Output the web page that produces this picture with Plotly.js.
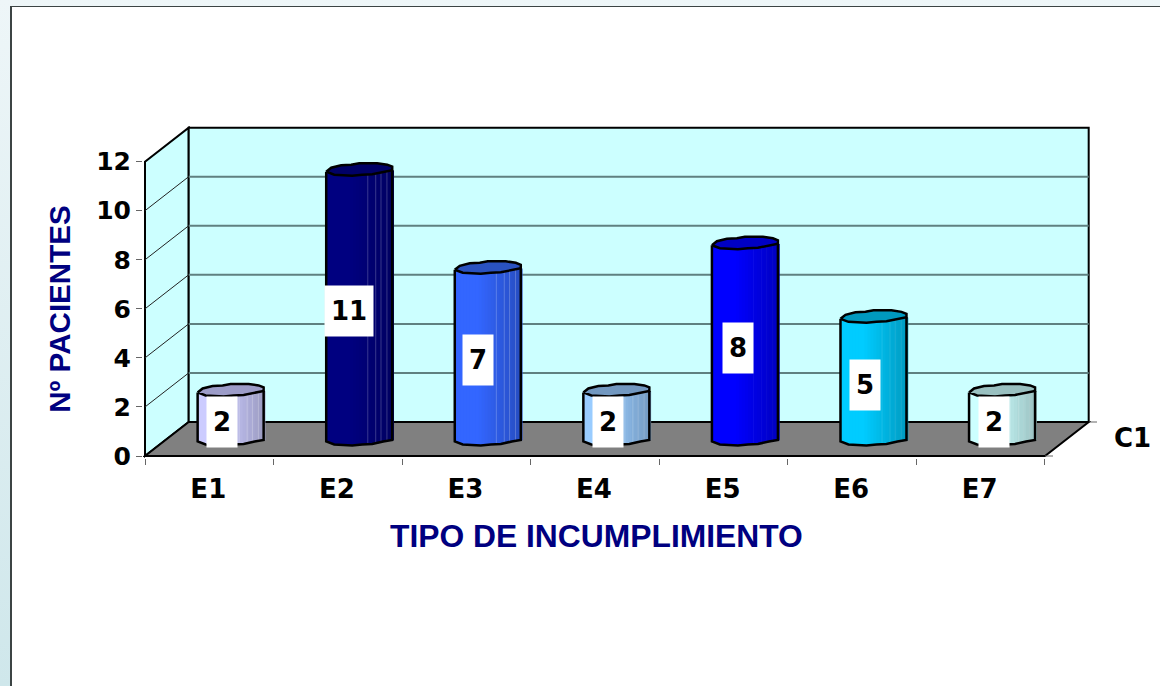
<!DOCTYPE html>
<html><head><meta charset="utf-8">
<script src="https://cdn.plot.ly/plotly-3.0.1.min.js"></script>
<style>
html,body{margin:0;padding:0;width:1160px;height:686px;overflow:hidden;background:linear-gradient(180deg,#eef6f8 0%,#cfe7eb 100%)}
#panel{position:absolute;left:10px;top:6px;width:1150px;height:680px;background:#fff;border-left:2px solid #3c4444;border-top:1px solid #3c4444;box-sizing:border-box}
#chart{position:absolute;left:0;top:0;width:1160px;height:686px}
</style></head><body>
<div id="panel"></div><div id="chart"></div>
<script>
const categories=['E1','E2','E3','E4','E5','E6','E7'];
const values=[2,11,7,2,8,5,2];
const barColors=['#CCCCFF','#000080','#3366FF','#99CCFF','#0000FF','#00CCFF','#CCFFFF'];
const capColors=['#9C9CC8','#000066','#2A52C0','#7298C0','#0000C4','#0099BF','#99C0C0'];
const seamAlpha=[0.25,0.22,0.22,0.18,0.04,0.1,0.12];
const labelWidths=[30,48,30,30,30,30,30];
const labelShift=[0,-2,-1,0,2,0,0];
const yTicks=[0,2,4,6,8,10,12];
const xTitle='TIPO DE INCUMPLIMIENTO', yTitle='Nº PACIENTES', depthLabel='C1';

// projection of the pseudo-3D box, in axis units
const PXX=128.57, PXY=24.53;
const DX=43.7/PXX, DY=34/PXY, YMAX=12;
const XN=categories.length;
const HALF=33/PXX;
const frontDX=[-33,-25,-7,3,13,24,33], frontDY=[2.5,5.5,6.5,5.5,5,2.5,1];
const capDX=[-33,-28,-18,-8,0,18,28,33,33,24,13,3,-7,-25,-33];
const capDY=[2.5,-1.5,-4,-4.5,-6,-6,-4.5,-2.5,1,2.5,5,5.5,6.5,5.5,2.5];
function front(d){for(let i=0;i<frontDX.length-1;i++){if(d<=frontDX[i+1]){const f=(d-frontDX[i])/(frontDX[i+1]-frontDX[i]);return frontDY[i]+f*(frontDY[i+1]-frontDY[i]);}}return 1;}
function hex(c,m){const n=parseInt(c.slice(1),16);const r=(n>>16)&255,g=(n>>8)&255,b=n&255;return `rgb(${Math.round(r*m)},${Math.round(g*m)},${Math.round(b*m)})`;}
const centers=categories.map((_,i)=>i+0.5+DX/2-0.5/PXX);
const FLOOR=DY/2;
const traces=[];
const N=22, stripW=2*HALF/N;
for(let k=0;k<N;k++){
  const f=(k+0.5)/N, d=-33+66*f;
  const m=f<0.35?1:1-(f-0.35)/0.65*0.24;
  traces.push({type:'bar',x:centers,y:values,base:values.map(()=>FLOOR-front(d)/PXY),
    width:stripW*1.6,offset:-HALF+k*stripW,
    marker:{color:barColors.map(c=>hex(c,m)),line:{width:0}},hoverinfo:'skip',showlegend:false});
}
values.forEach((v,i)=>{
  const cx=centers[i], top=v+FLOOR;
  const sx=[],sy=[];
  [0.63,0.75,0.83,0.92].forEach(f=>{const d=-33+66*f,x=cx+d/PXX;sx.push(x,x,null);sy.push(FLOOR-front(d)/PXY,top-front(d)/PXY,null);});
  traces.push({type:'scatter',mode:'lines',x:sx,y:sy,line:{color:`rgba(255,255,255,${seamAlpha[i]})`,width:1},hoverinfo:'skip',showlegend:false});
  const ox=[cx-HALF,cx-HALF],oy=[top-frontDY[0]/PXY,FLOOR-frontDY[0]/PXY];
  for(let j=1;j<frontDX.length;j++){ox.push(cx+frontDX[j]/PXX);oy.push(FLOOR-frontDY[j]/PXY);}
  ox.push(cx+HALF);oy.push(top-frontDY[frontDY.length-1]/PXY);
  traces.push({type:'scatter',mode:'lines',x:ox,y:oy,line:{color:'#000',width:2.5},hoverinfo:'skip',showlegend:false});
  traces.push({type:'scatter',mode:'lines',x:capDX.map(d=>cx+d/PXX),y:capDY.map(d=>top-d/PXY),fill:'toself',fillcolor:capColors[i],
    line:{color:'#000',width:2.5},hoverinfo:'skip',showlegend:false});
});

const shapes=[];
const poly=(pts,fill,line)=>shapes.push({type:'path',layer:'below',xref:'x',yref:'y',
  path:'M'+pts.map(p=>p.join(',')).join('L')+'Z',fillcolor:fill,line:line});
poly([[0,0],[DX,DY],[DX,YMAX+DY],[0,YMAX]],'#CCFFFF',{color:'#000',width:2});
poly([[DX,DY],[XN+DX,DY],[XN+DX,YMAX+DY],[DX,YMAX+DY]],'#CCFFFF',{color:'#000',width:2});
yTicks.slice(1,-1).forEach(v=>{
  shapes.push({type:'line',layer:'below',xref:'x',yref:'y',x0:DX,x1:XN+DX,y0:v+DY,y1:v+DY,line:{color:'#5F8080',width:2}});
  shapes.push({type:'line',layer:'below',xref:'x',yref:'y',x0:0,x1:DX,y0:v,y1:v+DY,line:{color:'#222',width:1}});
});
poly([[0,0],[XN,0],[XN+DX,DY],[DX,DY]],'#808080',{color:'#000',width:2});
// depth-axis tick marks, in paper fractions so they can leave the clipped plot area
const PW=948, PH=332;
[[1045,455.7],[1089,421.7]].forEach(p=>shapes.push({type:'line',xref:'paper',yref:'paper',
  x0:(p[0]-143)/PW,x1:(p[0]+8-143)/PW,y0:(457.7-p[1])/PH,y1:(457.7-p[1])/PH,line:{color:'#666',width:1}}));

const annotations=values.map((v,i)=>({x:i+0.6,y:v/2+9.8/PXY,xref:'x',yref:'y',xshift:labelShift[i],text:String(v),showarrow:false,
  width:labelWidths[i],height:50,bgcolor:'#fff',align:'center',valign:'middle',borderpad:0,
  font:{family:'DejaVu Sans',size:26,color:'#000',weight:700}}));
annotations.push({x:XN+DX,y:DY,xref:'x',yref:'y',xanchor:'left',yanchor:'middle',xshift:23,yshift:-15.8,text:depthLabel,showarrow:false,
  font:{family:'DejaVu Sans',size:26,color:'#000',weight:700}});
annotations.push({xref:'paper',yref:'paper',x:(596-143)/PW,y:(457.7-536)/PH,xanchor:'center',yanchor:'middle',text:xTitle,showarrow:false,
  font:{family:'Liberation Sans',size:31.8,color:'#000080',weight:700}});
annotations.push({xref:'paper',yref:'paper',x:(60-143)/PW,y:(457.7-308.5)/PH,xanchor:'center',yanchor:'middle',textangle:-90,text:yTitle,showarrow:false,
  font:{family:'Liberation Sans',size:29.6,color:'#000080',weight:700}});

const layout={width:1160,height:686,margin:{l:143,r:69,t:125.7,b:228.3,pad:0},
  paper_bgcolor:'rgba(0,0,0,0)',plot_bgcolor:'rgba(0,0,0,0)',showlegend:false,barmode:'overlay',
  xaxis:{range:[-2/PXX,946/PXX],tickmode:'array',tickvals:categories.map((_,i)=>i+0.5),ticktext:categories,
    ticks:'',showgrid:false,zeroline:false,showline:false,fixedrange:true,ticklabelstandoff:13,ticklabelshift:-1,
    tickfont:{family:'DejaVu Sans',size:26,color:'#000',weight:700},
    minor:{tickmode:'array',tickvals:Array.from({length:XN+1},(_,i)=>i),ticks:'outside',ticklen:6,tickwidth:1,tickcolor:'#666',showgrid:false}},
  yaxis:{range:[-2/PXY,330/PXY],tickmode:'array',tickvals:yTicks,ticks:'outside',ticklen:6,tickwidth:1,tickcolor:'#666',
    showgrid:false,zeroline:false,showline:false,fixedrange:true,
    tickfont:{family:'DejaVu Sans',size:25,color:'#000',weight:700}},
  shapes,annotations};
Plotly.newPlot('chart',traces,layout,{displayModeBar:false,staticPlot:true});
</script></body></html>
